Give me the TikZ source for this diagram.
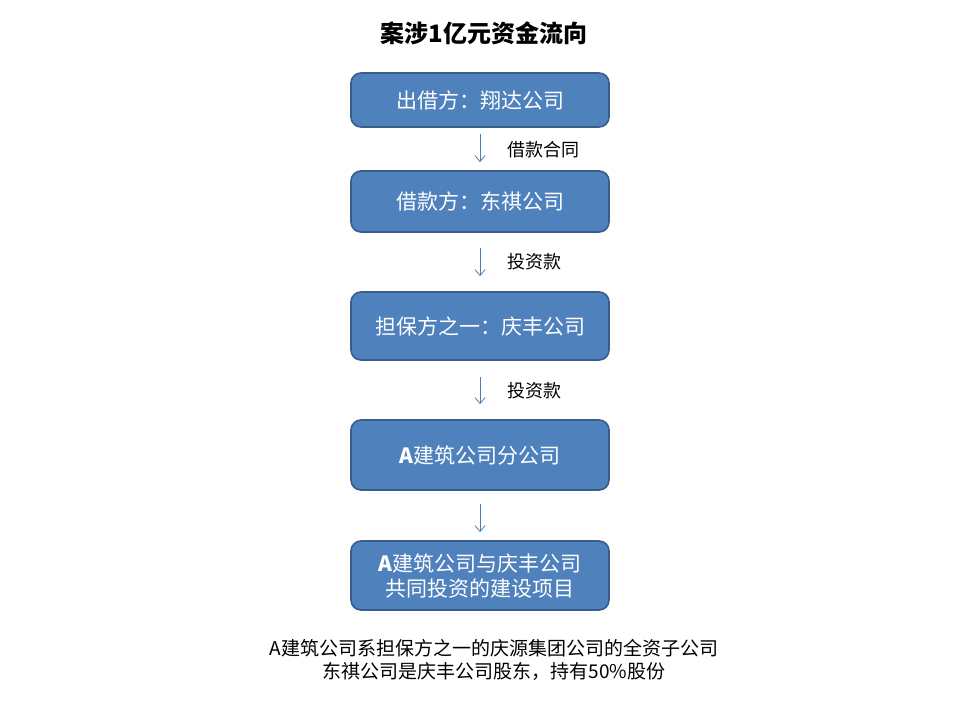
\documentclass[tikz,border=0pt]{standalone}
\usepackage{fontspec}
\newfontfamily\cjk{Noto Sans CJK SC}
\usetikzlibrary{arrows.meta}
\definecolor{boxfill}{HTML}{4F81BD}
\definecolor{boxline}{HTML}{385D8A}
\definecolor{arr}{HTML}{4A7EBB}
\tikzset{
  flowbox/.style={draw=boxline, line width=1.6pt, fill=boxfill, rounded corners=10pt,
    minimum width=258pt, text=white, font=\cjk\fontsize{21}{25}\selectfont, align=center, inner sep=0pt},
  flowarrow/.style={draw=arr, line width=0.8pt, -{Straight Barb[length=6pt,width=10pt]}},
  flowlabel/.style={font=\cjk\fontsize{18}{20}\selectfont, text=black},
  notetext/.style={font=\cjk\fontsize{19}{23}\selectfont, text=black, align=center}
}
\begin{document}
\begin{tikzpicture}[x=1pt,y=-1pt]
\useasboundingbox (0,0) rectangle (960,720);
\fill[white] (0,0) rectangle (960,720);
\node[font=\cjk\bfseries\fontsize{24}{28}\selectfont] (title) at (484,33) {案涉1亿元资金流向};
\node[flowbox, minimum height=54pt] (b1) at (480,100) {出借方：翔达公司};
\node[flowbox, minimum height=61pt] (b2) at (480,201.5) {借款方：东祺公司};
\node[flowbox, minimum height=68pt] (b3) at (480,326) {担保方之一：庆丰公司};
\node[flowbox, minimum height=70pt] (b4) at (480,455) {\textbf{A}建筑公司分公司};
\node[flowbox, minimum height=69pt] (b5) at (480,575.5) {\textbf{A}建筑公司与庆丰公司\\共同投资的建设项目};
\draw[flowarrow, shorten <=6pt, shorten >=8pt] (b1.south) -- (b2.north);
\draw[flowarrow, shorten <=15pt, shorten >=15pt] (b2.south) -- (b3.north);
\draw[flowarrow, shorten <=16pt, shorten >=15pt] (b3.south) -- (b4.north);
\draw[flowarrow, shorten <=13pt, shorten >=8pt] (b4.south) -- (b5.north);
\node[flowlabel] (l1) at (543,150) {借款合同};
\node[flowlabel] (l2) at (534,262) {投资款};
\node[flowlabel] (l3) at (534,391) {投资款};
\node[notetext] (note) at (494,660) {A建筑公司系担保方之一的庆源集团公司的全资子公司\\东祺公司是庆丰公司股东，持有50\%股份};
\end{tikzpicture}
\end{document}
